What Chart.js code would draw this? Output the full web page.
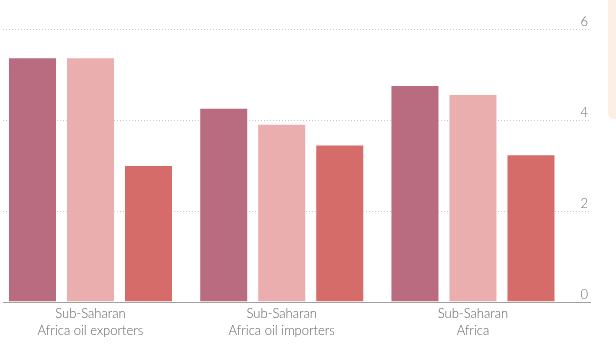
<!DOCTYPE html>
<html>
<head>
<meta charset="utf-8">
<script src="https://cdn.jsdelivr.net/npm/chart.js@4"></script>
<style>
  html, body { margin: 0; padding: 0; background: #fff; }
  #wrap { position: relative; width: 616px; height: 346px; overflow: hidden; }
  #note { position: absolute; left: 608px; top: 0; width: 12px; height: 119px; background: #fcf0e5; border-radius: 0 0 0 6px; }
</style>
</head>
<body>
<div id="wrap">
  <canvas id="growth" width="616" height="346"></canvas>
  <div id="note"></div>
</div>
<script>
const groups = [
  ['Sub-Saharan', 'Africa oil exporters'],
  ['Sub-Saharan', 'Africa oil importers'],
  ['Sub-Saharan', 'Africa'],
];
const first  = [5.38, 4.27, 4.77];
const second = [5.38, 3.92, 4.57];
const third  = [3.01, 3.46, 3.25];
const yTicks = [0, 2, 4, 6];

const colours = ['#b96c80', '#ebaeae', '#d56c69'];

// numeric x so the category band can run past the plot edges
const toPoints = arr => arr.map((v, i) => ({ x: i, y: v }));

new Chart(document.getElementById('growth'), {
  type: 'bar',
  data: {
    datasets: [first, second, third].map((arr, k) => ({
      label: 'series ' + (k + 1),
      data: toPoints(arr),
      backgroundColor: colours[k],
      borderColor: 'rgba(255,255,255,0.25)',
      borderWidth: 1,
      categoryPercentage: 0.91,
      barPercentage: 0.845,
    })),
  },
  options: {
    responsive: false,
    animation: false,
    layout: { padding: { top: 29, left: 3, right: 0, bottom: 0 } },
    plugins: { legend: { display: false }, tooltip: { enabled: false } },
    scales: {
      x: {
        type: 'linear',
        offset: false,
        min: -0.4575,
        max: 2.612,
        afterBuildTicks: s => { s.ticks = groups.map((g, i) => ({ value: i })); },
        afterFit: s => { s.height = 44; },
        grid: { display: false, drawTicks: false, offset: false },
        border: { display: true, color: '#a3a09d', width: 1 },
        ticks: {
          padding: 4,
          color: '#66615d',
          font: { family: 'Lato', size: 13, weight: 300, lineHeight: 1.25 },
          callback: v => groups[v] || '',
          maxRotation: 0,
          autoSkip: false,
        },
      },
      y: {
        position: 'right',
        min: 0,
        max: 6,
        afterBuildTicks: s => { s.ticks = yTicks.map(v => ({ value: v })); },
        afterFit: s => { s.width = 26; },
        grid: {
          drawTicks: false,
          color: c => c.tick.value === 0 ? 'rgba(0,0,0,0)' : '#c9c6c3',
          lineWidth: 1,
        },
        border: { display: false, dash: [1, 2] },
        ticks: {
          mirror: true,
          padding: -2,
          labelOffset: -7,
          color: '#6e6966',
          font: { family: 'Lato', size: 13, weight: 300 },
        },
      },
    },
  },
});
</script>
</body>
</html>
